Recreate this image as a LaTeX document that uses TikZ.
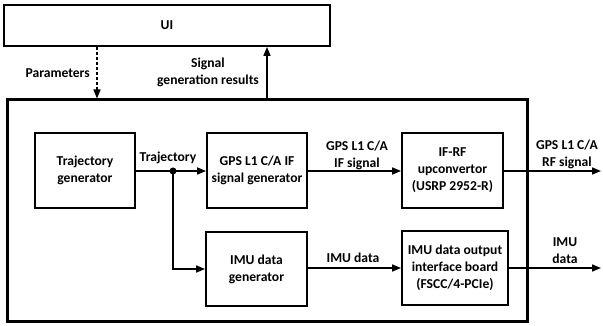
\documentclass[tikz,border=0pt]{standalone}
\usepackage{fontspec}
\setmainfont{Carlito}
\usetikzlibrary{arrows.meta}
\begin{document}
\begin{tikzpicture}[x=1pt,y=-1pt,
  font=\bfseries\fontsize{13.6}{17}\selectfont,
  blk/.style={draw,line width=1.8pt,align=center,inner sep=0pt},
  lbl/.style={align=center,inner sep=0pt},
  conn/.style={line width=1.6pt,-{Triangle[length=9pt,width=7pt]}},
  wire/.style={line width=1.6pt}]
\useasboundingbox (0,0) rectangle (603,326);
% boxes
\node[blk,minimum width=326pt,minimum height=41pt] (ui) at (167,25.5) {UI};
\node[draw,line width=3pt,minimum width=520pt,minimum height=221pt,inner sep=0pt] (main) at (267,210.5) {};
\node[blk,minimum width=100pt,minimum height=75pt] (tg) at (85,170.5) {Trajectory\\generator};
\node[blk,minimum width=100pt,minimum height=75pt] (gps) at (257,170.5) {GPS L1 C/A IF\\signal generator};
\node[blk,minimum width=101pt,minimum height=75pt] (rf) at (452.5,170.5) {IF-RF\\upconvertor\\(USRP 2952-R)};
\node[blk,minimum width=101pt,minimum height=74pt] (imug) at (256.5,269) {IMU data\\generator};
\node[blk,minimum width=106pt,minimum height=74pt] (imuo) at (455,268) {IMU data output\\interface board\\(FSCC/4-PCIe)};
% coordinates
\coordinate (px) at (97,0);
\coordinate (sx) at (267,0);
\coordinate (jn) at (173,171);
\coordinate (jb) at (173,269);
\coordinate (rfo) at (601,171);
\coordinate (imo) at (601,268);
% connectors
\draw[conn,dashed,dash pattern=on 3pt off 2pt] (ui.south -| px) -- (main.north -| px);
\draw[conn] (main.north -| sx) -- (ui.south -| sx);
\draw[wire] (tg.east |- jn) -- (jn);
\draw[conn] (jn) -- (gps.west |- jn);
\draw[conn] (jn) -- (jb) -- (imug.west |- jb);
\fill (jn) circle (3.5pt);
\draw[conn] (gps.east |- jn) -- (rf.west |- jn);
\draw[conn] (rf.east |- rfo) -- (rfo);
\draw[conn] (imug.east |- imo) -- (imuo.west |- imo);
\draw[conn] (imuo.east |- imo) -- (imo);
% labels
\node[lbl,anchor=east] (lp) at (90,73) {Parameters};
\node[lbl] (ls) at (208,72.5) {Signal\\generation results};
\node[lbl] (lt) at (168,158) {Trajectory};
\node[lbl] (lif) at (357,155) {GPS L1 C/A\\IF signal};
\node[lbl] (lrf) at (567,154) {GPS L1 C/A\\RF signal};
\node[lbl] (lid) at (353,258) {IMU data};
\node[lbl] (lio) at (565,251) {IMU\\data};
\end{tikzpicture}
\end{document}
